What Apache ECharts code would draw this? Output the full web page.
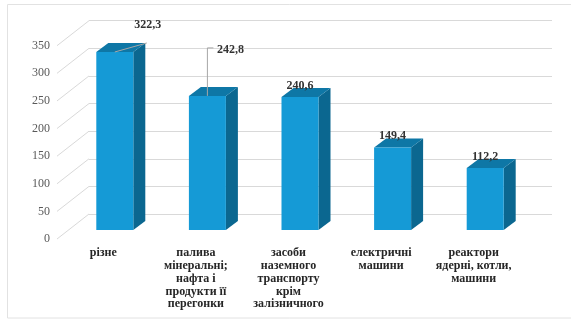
<!DOCTYPE html>
<html>
<head>
<meta charset="utf-8">
<script src="https://cdn.jsdelivr.net/npm/echarts@6/dist/echarts.min.js"></script>
<style>
html,body{margin:0;padding:0;background:#fff;}
#c{width:571px;height:320px;}
</style>
</head>
<body>
<div id="c"></div>
<script>
const categories = [
  'різне',
  'палива\nмінеральні;\nнафта і\nпродукти її\nперегонки',
  'засоби\nназемного\nтранспорту\nкрім\nзалізничного',
  'електричні\nмашини',
  'реактори\nядерні, котли,\nмашини'
];
const values = [322.3, 242.8, 240.6, 149.4, 112.2];
const valueLabels = ['322,3', '242,8', '240,6', '149,4', '112,2'];
const yTicks = [0, 50, 100, 150, 200, 250, 300, 350];

// style: label offsets relative to bar top-front centre, and leader lines
const labelStyle = [
  {dx: 33, dy: -27, leader: [[0,0],[32,-9]]},
  {dx: 23, dy: -46, leader: [[0,0],[0,-48],[6,-48]]},
  {dx: 0, dy: -11, leader: null},
  {dx: 0, dy: -12, leader: null},
  {dx: 0, dy: -11, leader: null}
];

const FONT = '"Liberation Serif", "DejaVu Serif", serif';
const DEPTH_X = 32, DEPTH_Y = -25;      // floor depth
const BAR_X = 11.5, BAR_Y = -9;         // bar front plane shift
const BAR_W = 37, SIDE_X = 12, SIDE_Y = -9;

const chart = echarts.init(document.getElementById('c'), null, {renderer: 'canvas'});

chart.setOption({
  animation: false,
  backgroundColor: '#fff',
  graphic: [{
    type: 'rect', shape: {x: 7.5, y: 4.5, width: 575, height: 313.5},
    style: {fill: 'none', stroke: '#e2e2e2', lineWidth: 1}, silent: true, z: -10
  }],
  grid: [
    {left: 57, width: 463, top: 45.7, height: 193.3},
    {left: 89, width: 463, top: 20.7, height: 193.3}
  ],
  xAxis: [
    {gridIndex: 0, type: 'category', data: categories,
     axisLine: {show: false}, axisTick: {show: false},
     axisLabel: {interval: 0, margin: 8, fontFamily: FONT, fontWeight: 'bold', fontSize: 12,
                 lineHeight: 12.7, color: '#262626', align: 'center', verticalAlign: 'top'}},
    {gridIndex: 1, type: 'category', data: categories, show: false}
  ],
  yAxis: [
    {gridIndex: 0, type: 'value', min: 0, max: 350, interval: 50,
     axisLine: {show: false}, axisTick: {show: false}, splitLine: {show: false},
     axisLabel: {margin: 7, fontFamily: FONT, fontSize: 12, color: '#595959'}},
    {gridIndex: 1, type: 'value', min: 0, max: 350, interval: 50,
     axisLine: {show: false}, axisTick: {show: false}, axisLabel: {show: false},
     splitLine: {show: true, lineStyle: {color: '#d9d9d9', width: 1}}}
  ],
  series: [
    {
      type: 'custom', xAxisIndex: 0, yAxisIndex: 0, silent: true, z: 1,
      data: yTicks.map(v => [0, v]),
      renderItem: function (params, api) {
        const p = api.coord([0, api.value(1)]);
        const x0 = params.coordSys.x;
        return {type: 'line', shape: {x1: x0, y1: p[1], x2: x0 + DEPTH_X, y2: p[1] + DEPTH_Y},
                style: {stroke: '#d9d9d9', lineWidth: 1}};
      }
    },
    {
      type: 'custom', xAxisIndex: 0, yAxisIndex: 0, silent: true, z: 5,
      data: values.map((v, i) => [i, v]),
      renderItem: function (params, api) {
        const i = api.value(0);
        const top = api.coord([i, api.value(1)]);
        const base = api.coord([i, 0]);
        const cx = top[0] + BAR_X;
        const xl = cx - BAR_W / 2, xr = cx + BAR_W / 2;
        const yt = top[1] + BAR_Y, yb = base[1] + BAR_Y;
        const children = [
          {type: 'polygon', shape: {points: [[xr, yt], [xr + SIDE_X, yt + SIDE_Y], [xr + SIDE_X, yb + SIDE_Y], [xr, yb]]},
           style: {fill: '#0b6790'}},
          {type: 'polygon', shape: {points: [[xl, yt], [xl + SIDE_X, yt + SIDE_Y], [xr + SIDE_X, yt + SIDE_Y], [xr, yt]]},
           style: {fill: '#0e77a6'}},
          {type: 'rect', shape: {x: xl, y: yt, width: BAR_W, height: yb - yt},
           style: {fill: '#159ad6'}}
        ];
        const ls = labelStyle[i];
        if (ls.leader) {
          children.push({type: 'polyline', shape: {points: ls.leader.map(p => [cx + p[0], yt + p[1]])},
                         style: {stroke: '#a6a6a6', lineWidth: 1, fill: 'none'}, z2: 10});
        }
        children.push({type: 'text', z2: 11,
          style: {text: valueLabels[i], x: cx + ls.dx, y: yt + ls.dy, align: 'center', verticalAlign: 'middle',
                  fontFamily: FONT, fontWeight: 'bold', fontSize: 12, fill: '#333'}});
        return {type: 'group', children: children};
      }
    }
  ]
});
</script>
</body>
</html>
